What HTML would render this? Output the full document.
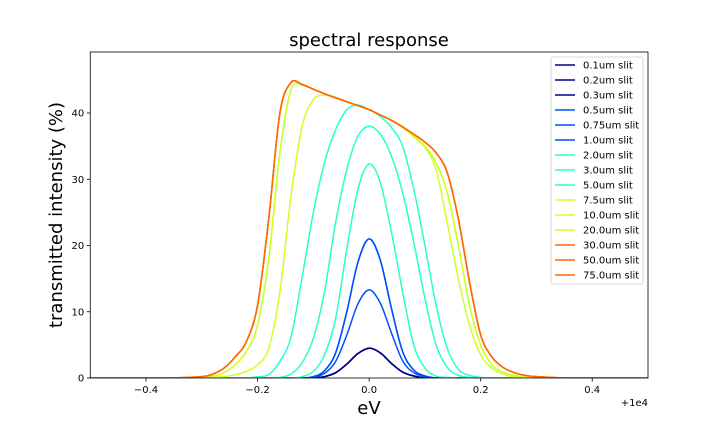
<!DOCTYPE html>
<html><head><meta charset="utf-8"><style>
body{margin:0;background:#fff;}
svg{display:block;font-family:"DejaVu Sans","Liberation Sans",sans-serif;}
</style></head><body>
<svg id="chart" width="720" height="432">
<rect x="0" y="0" width="720" height="432" fill="#fff"/>
<text x="369" y="46" font-size="18" text-anchor="middle">spectral response</text>
<g id="plot"></g>
<text x="369" y="414" font-size="18" text-anchor="middle">eV</text>
<text transform="translate(62,215) rotate(-90)" font-size="18" text-anchor="middle">transmitted intensity (%)</text>
<text x="648" y="406" font-size="10" text-anchor="end">+1e4</text>
<g id="legend"></g>
</svg>
<script>
const xStart = -0.30, xStep = 0.02;
const xTicks = [-0.4,-0.2,0,0.2,0.4];
const xTickLabels = ["\u22120.4","\u22120.2","0.0","0.2","0.4"];
const yTicks = [0,10,20,30,40];
const slits = ["0.1um slit","0.2um slit","0.3um slit","0.5um slit","0.75um slit","1.0um slit","2.0um slit","3.0um slit","5.0um slit","7.5um slit","10.0um slit","20.0um slit","30.0um slit","50.0um slit","75.0um slit"];
const colors = ["#00008b","#00008b","#00008b","#0050ff","#0050ff","#0050ff","#29ffce","#29ffce","#29ffce","#ceff29","#ceff29","#ceff29","#ff6a00","#ff6a00","#ff6a00"];
// values at x = -0.30 .. 0.30 step 0.02 (31 points)
const sNarrow = [0,0,0,0,0,0,0,0,0,0,0,0.2,0.8,2.1,3.7,4.5,3.8,2.2,0.9,0.3,0,0,0,0,0,0,0,0,0,0,0];
const s075 = [0,0,0,0,0,0,0,0,0,0,0.1,0.7,2.5,6.5,11.2,13.3,11.3,6.8,2.6,0.8,0.2,0,0,0,0,0,0,0,0,0,0];
const s1 = [0,0,0,0,0,0,0,0,0,0,0.2,1.1,3.8,10,17.5,21,17.8,10.5,4,1.2,0.3,0,0,0,0,0,0,0,0,0,0];
const s2 = [0,0,0,0,0,0,0,0,0,0.2,1,3.5,9,19.5,28.5,32.3,29.5,22,13,5,1.5,0.3,0.1,0,0,0,0,0,0,0,0];
const s3 = [0,0,0,0,0,0,0,0.1,0.6,2.3,6,13,23.5,31.5,36.5,38,36.8,33.5,28,20.5,12,5,1.6,0.4,0.1,0,0,0,0,0,0];
const s5 = [0,0,0,0,0,0.2,0.5,2.5,6.2,15.3,25,32.5,37.5,40.5,41.2,40.5,39.5,37.8,35,28.5,20,11,4.5,1.3,0.4,0.1,0,0,0,0,0];
const s75 = [0,0.1,0.2,0.5,1,2,4.5,13,27.5,38,42,42.7,42.3,41.7,41.1,40.5,39.7,38.9,37.8,36.4,34.8,31.5,23.5,15,8,3.5,1.5,0.6,0.2,0.1,0];
const s10 = [0.1,0.3,0.8,2,4,8,18,34,43.5,44.2,43.6,42.9,42.3,41.7,41.1,40.5,39.7,38.9,37.9,36.6,35,32.5,28,20,11,5,2,0.9,0.4,0.2,0.1];
const s30 = [0.2,0.6,1.5,3.2,5.5,11,24,40,44.6,44.3,43.6,42.9,42.3,41.7,41.1,40.5,39.7,38.9,37.9,36.8,35.6,34,31,24,14.5,6.5,3.2,1.6,0.8,0.4,0.2];
const series = [sNarrow,sNarrow,sNarrow,s075,s1,s1,s2,s3,s5,s75,s10,s10,s30,s30,s30];
</script>
<script>
(function(){
const NS="http://www.w3.org/2000/svg";
const L=90.25,R=648,T=52,B=378;
const xmin=-0.5,xmax=0.5,ymin=0,ymax=(B-T)/6.625;
const sx=v=>L+(v-xmin)/(xmax-xmin)*(R-L);
const sy=v=>B-(v-ymin)/(ymax-ymin)*(B-T);
const plot=document.getElementById('plot');
function el(t,a){const e=document.createElementNS(NS,t);for(const k in a)e.setAttribute(k,a[k]);return e;}
const clip=el('clipPath',{id:'cp'});clip.appendChild(el('rect',{x:L,y:T,width:R-L,height:B-T}));
document.getElementById('chart').appendChild(clip);
const lines=el('g',{'clip-path':'url(#cp)'});plot.appendChild(lines);
series.forEach((vals,si)=>{
  const n=vals.length;
  const pts=[[sx(xmin),sy(0)],[sx(xStart-3*xStep),sy(0)]];
  vals.forEach((v,i)=>pts.push([sx(xStart+i*xStep),sy(v)]));
  pts.push([sx(xStart+(n+2)*xStep),sy(0)]);
  pts.push([sx(xmax),sy(0)]);
  let d='M'+pts[0][0]+','+pts[0][1];
  for(let i=0;i<pts.length-1;i++){
    const p0=pts[Math.max(0,i-1)],p1=pts[i],p2=pts[i+1],p3=pts[Math.min(pts.length-1,i+2)];
    const c1=[p1[0]+(p2[0]-p0[0])/6,p1[1]+(p2[1]-p0[1])/6];
    const c2=[p2[0]-(p3[0]-p1[0])/6,p2[1]-(p3[1]-p1[1])/6];
    d+=`C${c1[0].toFixed(2)},${Math.min(B,c1[1]).toFixed(2)} ${c2[0].toFixed(2)},${Math.min(B,c2[1]).toFixed(2)} ${p2[0].toFixed(2)},${p2[1].toFixed(2)}`;
  }
  const p=el('path',{d:d,fill:'none',stroke:colors[si],'stroke-width':1.5,'stroke-linejoin':'round'});
  
  
  lines.appendChild(p);
});
const frame=el('rect',{x:L,y:T,width:R-L,height:B-T,fill:'none',stroke:'#000','stroke-width':0.8});


plot.appendChild(frame);
xTicks.forEach((v,i)=>{
  const x=sx(v);
  plot.appendChild(el('line',{x1:x,x2:x,y1:B,y2:B+3.5,stroke:'#000','stroke-width':0.8}));
  const t=el('text',{x:x,y:B+15,'font-size':10,'text-anchor':'middle'});t.textContent=xTickLabels[i];
  
  
  plot.appendChild(t);
});
yTicks.forEach(v=>{
  const y=sy(v);
  plot.appendChild(el('line',{x1:L-3.5,x2:L,y1:y,y2:y,stroke:'#000','stroke-width':0.8}));
  const t=el('text',{x:L-6,y:y+3.5,'font-size':10,'text-anchor':'end'});t.textContent=v;
  
  
  plot.appendChild(t);
});
const lg=document.getElementById('legend');
const box=el('rect',{x:551,y:57,width:92,height:227,fill:'#fff',stroke:'#ccc','stroke-width':0.8,rx:2});


lg.appendChild(box);
slits.forEach((s,i)=>{
  const y=65+i*15;
  const g=el('g',{});
  
  
  g.appendChild(el('line',{x1:555,x2:575,y1:y,y2:y,stroke:colors[i],'stroke-width':1.5}));
  const t=el('text',{x:583,y:y+3.5,'font-size':10});t.textContent=s;
  g.appendChild(t);lg.appendChild(g);
});
})();
</script>
</body></html>
